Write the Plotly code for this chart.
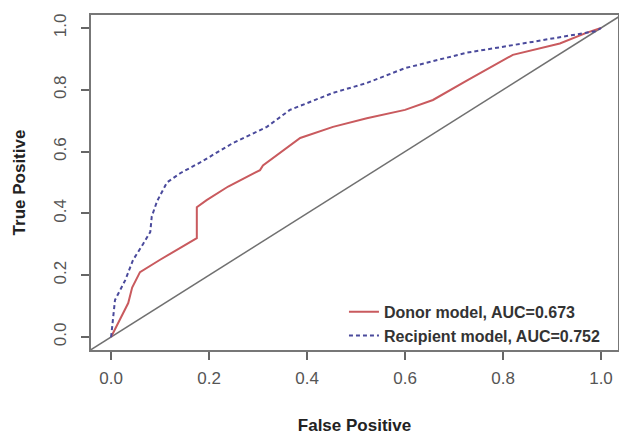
import plotly.graph_objects as go

# Donor model ROC (red, solid)
donor_fpr = [0.0, 0.018, 0.035, 0.043, 0.059, 0.10, 0.141, 0.175, 0.175, 0.195, 0.239,
             0.304, 0.31, 0.386, 0.453, 0.522, 0.60, 0.657, 0.726, 0.82, 0.916, 0.97, 1.0]
donor_tpr = [0.0, 0.055, 0.11, 0.16, 0.21, 0.25, 0.288, 0.32, 0.42, 0.443, 0.487,
             0.54, 0.555, 0.644, 0.68, 0.708, 0.735, 0.767, 0.83, 0.913, 0.95, 0.984, 1.0]

# Recipient model ROC (blue, dashed)
recip_fpr = [0.0, 0.008, 0.029, 0.045, 0.065, 0.08, 0.083, 0.094, 0.114, 0.141, 0.182,
             0.249, 0.318, 0.365, 0.453, 0.522, 0.60, 0.726, 0.86, 0.99, 1.0]
recip_tpr = [0.0, 0.12, 0.184, 0.25, 0.30, 0.34, 0.39, 0.44, 0.50, 0.53, 0.565,
             0.628, 0.68, 0.735, 0.79, 0.822, 0.87, 0.92, 0.955, 0.99, 1.0]

diag = [-0.1, 1.1]
x_ticks = [0.0, 0.2, 0.4, 0.6, 0.8, 1.0]
y_ticks = [0.0, 0.2, 0.4, 0.6, 0.8, 1.0]
tick_text = ["0.0", "0.2", "0.4", "0.6", "0.8", "1.0"]

fig = go.Figure()
fig.add_trace(go.Scatter(x=diag, y=diag, mode="lines", showlegend=False,
                         line=dict(color="#707070", width=1.5), hoverinfo="skip"))
fig.add_trace(go.Scatter(x=donor_fpr, y=donor_tpr, mode="lines",
                         name="Donor model, AUC=0.673",
                         line=dict(color="#c95a5e", width=2)))
fig.add_trace(go.Scatter(x=recip_fpr, y=recip_tpr, mode="lines",
                         name="Recipient model, AUC=0.752",
                         line=dict(color="#4a4a9c", width=2, dash="4px,3px")))

font_family = "Liberation Sans, Arial, sans-serif"
axis_common = dict(showgrid=False, zeroline=False, showline=True, mirror=True,
                   automargin=False,
                   linecolor="#777777", linewidth=1.5, ticks="outside", ticklen=8,
                   tickcolor="#666666", tickwidth=1.5,
                   tickfont=dict(family=font_family, size=17, color="#555555"))

fig.update_layout(
    width=619, height=435,
    margin=dict(l=91, r=1, t=15, b=85),
    paper_bgcolor="white", plot_bgcolor="white",
    xaxis=dict(range=[-0.041, 1.0347], tickvals=x_ticks, ticktext=tick_text,
               ticklabelstandoff=4,
               title=dict(text="<b>False Positive</b>", standoff=32,
                          font=dict(family=font_family, size=17, color="#222222")),
               **axis_common),
    yaxis=dict(range=[-0.042, 1.042], tickvals=y_ticks, ticktext=tick_text,
               tickangle=-90, ticklabelstandoff=8,
               title=dict(text="<b>True Positive</b>", standoff=22,
                          font=dict(family=font_family, size=17, color="#222222")),
               **axis_common),
    legend=dict(x=0.48, y=0.165, xanchor="left", yanchor="top",
                bgcolor="rgba(0,0,0,0)", borderwidth=0, tracegroupgap=0,
                font=dict(family=font_family, size=16, color="#333333", weight="bold"),
                itemwidth=30),
    showlegend=True,
)

fig.write_html("out.html", config={"displayModeBar": False},
               post_script="document.body.style.margin='0px';document.body.style.overflow='hidden';")
